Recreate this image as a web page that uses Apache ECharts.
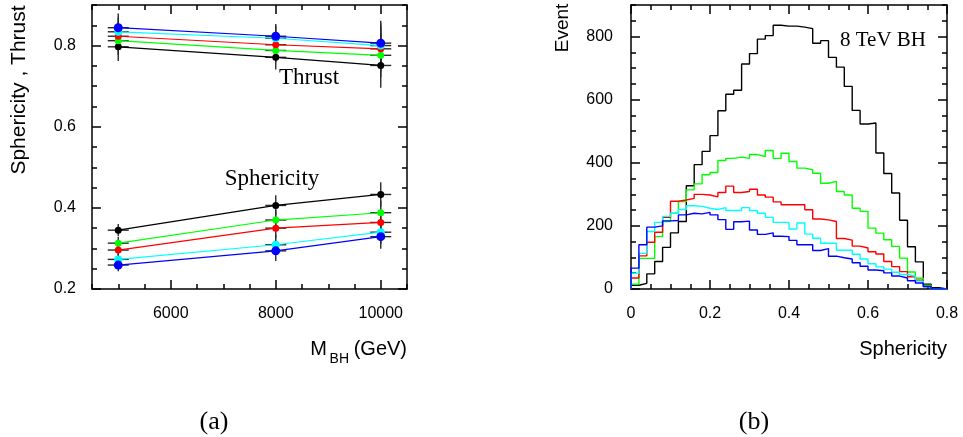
<!DOCTYPE html>
<html><head><meta charset="utf-8">
<script src="https://cdn.jsdelivr.net/npm/echarts@6/dist/echarts.min.js"></script>
<style>html,body{margin:0;padding:0;background:#fff}#c{width:963px;height:437px}</style>
</head><body><div id="c"></div>
<script>
// ---------- Panel (a): mean Sphericity / Thrust vs M_BH ----------
const masses = [5000, 8000, 10000];
const massErr = [200, 200, 200];

const thrustBlack = [0.797, 0.771, 0.751];
const thrustGreen = [0.812, 0.788, 0.776];
const thrustRed   = [0.823, 0.802, 0.792];
const thrustCyan  = [0.834, 0.818, 0.800];
const thrustBlue  = [0.844, 0.823, 0.806];
const thrustErr   = [0.035, 0.030, 0.055];

const spherBlack = [0.345, 0.406, 0.433];
const spherGreen = [0.313, 0.370, 0.388];
const spherRed   = [0.296, 0.350, 0.364];
const spherCyan  = [0.273, 0.309, 0.340];
const spherBlue  = [0.259, 0.294, 0.329];
const spherErr   = [0.015, 0.025, 0.030];

const massTickLabels = [6000, 8000, 10000];
const leftYTickLabels = [0.2, 0.4, 0.6, 0.8];

// ---------- Panel (b): Sphericity histograms, 8 TeV BH (40 bins of 0.02 from 0 to 0.8) ----------
const binLow = 0;
const binWidth = 0.02;
const histBlack = [12, 18, 48, 87, 132, 178, 214, 327, 394, 436, 486, 565, 617, 630, 713, 746, 792, 803, 836, 833,
                   833, 830, 825, 779, 787, 734, 703, 642, 566, 523, 526, 431, 366, 304, 218, 134, 86, 15, 4, 0];
const histGreen = [15, 97, 97, 166, 214, 240, 277, 314, 333, 362, 369, 407, 414, 418, 414, 426, 420, 439, 414, 430,
                   404, 383, 378, 367, 335, 341, 309, 298, 256, 246, 193, 177, 156, 135, 98, 54, 34, 12, 0, 0];
const histRed   = [35, 105, 148, 180, 227, 278, 282, 287, 300, 298, 292, 306, 326, 306, 309, 316, 298, 291, 276, 267,
                   267, 267, 251, 222, 219, 214, 160, 155, 136, 130, 118, 111, 87, 71, 55, 39, 28, 8, 0, 0];
const histCyan  = [50, 113, 182, 211, 230, 240, 252, 264, 262, 256, 252, 258, 249, 249, 258, 249, 240, 227, 211, 211,
                   190, 209, 174, 161, 145, 145, 123, 123, 110, 95, 80, 70, 63, 53, 46, 40, 25, 8, 0, 0];
const histBlue  = [66, 140, 196, 200, 216, 217, 235, 240, 238, 243, 235, 220, 189, 213, 215, 187, 173, 178, 167, 166,
                   154, 140, 140, 122, 128, 104, 99, 95, 83, 72, 60, 58, 51, 41, 35, 26, 19, 8, 0, 0];

const rightXTickLabels = [0, 0.2, 0.4, 0.6, 0.8];
const rightYTickLabels = [0, 200, 400, 600, 800];

// ---------- build ----------
const SANS = "'Liberation Sans', Arial, sans-serif";
const SERIF = "'Liberation Serif', 'DejaVu Serif', serif";
const AX = {color: '#000', width: 1.5};

function axis(grid, pos, min, max, opts) {
  const a = {
    gridIndex: grid, type: 'value', position: pos, min: min, max: max,
    axisLine: {show: !!opts.line, onZero: false, lineStyle: AX},
    axisTick: {show: true, inside: true, length: opts.len, lineStyle: AX},
    axisLabel: {show: false},
    splitLine: {show: false}
  };
  if (opts.interval) a.interval = opts.interval;
  if (opts.ticks) a.axisTick.customValues = opts.ticks;
  if (opts.labels) {
    a.axisLabel = {show: true, customValues: opts.labels, margin: opts.margin,
                   fontFamily: SANS, fontSize: 16, color: '#000',
                   formatter: opts.fmt || (v => String(v))};
  }
  return a;
}

const xAxes = [
  axis(0, 'bottom', 4500, 10500, {line: true, len: 9, ticks: massTickLabels, labels: massTickLabels, margin: 17}),
  axis(0, 'bottom', 4500, 10500, {len: 5, interval: 500}),
  axis(0, 'top', 4500, 10500, {line: true, len: 9, ticks: massTickLabels}),
  axis(0, 'top', 4500, 10500, {len: 5, interval: 500}),
  axis(1, 'bottom', 0, 0.8, {line: true, len: 9, ticks: rightXTickLabels, labels: rightXTickLabels, margin: 17,
        fmt: v => (v === 0 ? '0' : String(+(+v).toFixed(1)))}),
  axis(1, 'bottom', 0, 0.8, {len: 5, interval: 0.05}),
  axis(1, 'top', 0, 0.8, {line: true, len: 9, ticks: rightXTickLabels}),
  axis(1, 'top', 0, 0.8, {len: 5, interval: 0.05})
];
const yAxes = [
  axis(0, 'left', 0.2, 0.9, {line: true, len: 9, ticks: leftYTickLabels, labels: leftYTickLabels, margin: 16,
        fmt: v => (+v).toFixed(1)}),
  axis(0, 'left', 0.2, 0.9, {len: 5, interval: 0.05}),
  axis(0, 'right', 0.2, 0.9, {line: true, len: 9, ticks: leftYTickLabels}),
  axis(0, 'right', 0.2, 0.9, {len: 5, interval: 0.05}),
  axis(1, 'left', 0, 900, {line: true, len: 9, ticks: rightYTickLabels, labels: rightYTickLabels, margin: 18}),
  axis(1, 'left', 0, 900, {len: 5, interval: 50}),
  axis(1, 'right', 0, 900, {line: true, len: 9, ticks: rightYTickLabels}),
  axis(1, 'right', 0, 900, {len: 5, interval: 50})
];

const series = [];
function addPoints(vals, errs, color, size) {
  series.push({
    type: 'custom', xAxisIndex: 0, yAxisIndex: 0, silent: true, z: 1,
    encode: {x: 0, y: 1},
    data: masses.map((m, i) => [m, vals[i], errs[i], massErr[i]]),
    renderItem: function (params, api) {
      const x = api.value(0), y = api.value(1), ey = api.value(2), ex = api.value(3);
      const t = api.coord([x, y + ey]), b = api.coord([x, y - ey]);
      const l = api.coord([x - ex, y]), r = api.coord([x + ex, y]);
      const st = {stroke: '#2a2a2a', lineWidth: 1.4};
      return {type: 'group', children: [
        {type: 'line', shape: {x1: t[0], y1: t[1], x2: b[0], y2: b[1]}, style: st},
        {type: 'line', shape: {x1: l[0], y1: l[1], x2: r[0], y2: r[1]}, style: st}
      ]};
    }
  });
  series.push({
    type: 'line', xAxisIndex: 0, yAxisIndex: 0, z: 3, silent: true, animation: false,
    data: masses.map((m, i) => [m, vals[i]]),
    symbol: 'circle', symbolSize: size, showSymbol: true,
    itemStyle: {color: color}, lineStyle: {color: color, width: 1.2}
  });
}
addPoints(thrustBlack, thrustErr, '#000000', 7);
addPoints(thrustGreen, thrustErr, '#00ff00', 7);
addPoints(thrustRed, thrustErr, '#ff0000', 7);
addPoints(thrustCyan, thrustErr, '#00ffff', 8);
addPoints(thrustBlue, thrustErr, '#0000ff', 9);
addPoints(spherBlack, spherErr, '#000000', 7);
addPoints(spherGreen, spherErr, '#00ff00', 7);
addPoints(spherRed, spherErr, '#ff0000', 7);
addPoints(spherCyan, spherErr, '#00ffff', 8);
addPoints(spherBlue, spherErr, '#0000ff', 9);

function stepData(vals) {
  const d = [[binLow, 0]];
  vals.forEach((v, i) => d.push([binLow + i * binWidth, v]));
  d.push([binLow + vals.length * binWidth, vals[vals.length - 1]]);
  d.push([binLow + vals.length * binWidth, 0]);
  return d;
}
function addHist(vals, color) {
  series.push({
    type: 'line', xAxisIndex: 4, yAxisIndex: 4, step: 'end', symbol: 'none', silent: true,
    animation: false, data: stepData(vals), lineStyle: {color: color, width: 1.4}
  });
}
addHist(histBlack, '#000000');
addHist(histGreen, '#00ff00');
addHist(histRed, '#ff0000');
addHist(histCyan, '#00ffff');
addHist(histBlue, '#0000ff');

function txt(text, x, y, font, align, rot) {
  return {type: 'text', x: x, y: y, rotation: rot || 0, silent: true, z: 10,
          style: {text: text, font: font, fill: '#000', align: align || 'center', verticalAlign: 'middle',
                  textAlign: align || 'center', textVerticalAlign: 'middle'}};
}
const graphics = [
  txt('Sphericity , Thrust', 19, 90, '21px ' + SANS, 'center', Math.PI / 2),
  txt('Thrust', 309, 78, '23px ' + SERIF),
  txt('Sphericity', 272, 179, '23px ' + SERIF),
  txt('(GeV)', 407, 349, '20px ' + SANS, 'right'),
  txt('BH', 349, 359, '14px ' + SANS, 'right'),
  txt('M', 327, 349, '20px ' + SANS, 'right'),
  txt('(a)', 214, 422, '26px ' + SERIF),
  txt('Event', 563, 28, '19px ' + SANS, 'center', Math.PI / 2),
  txt('8 TeV BH', 883, 40, '21px ' + SERIF),
  txt('Sphericity', 947, 349, '20px ' + SANS, 'right'),
  txt('(b)', 754, 422, '26px ' + SERIF)
];

const chart = echarts.init(document.getElementById('c'), null, {renderer: 'canvas'});
chart.setOption({
  animation: false,
  backgroundColor: '#fff',
  grid: [
    {left: 92, top: 5, width: 315, height: 284, show: false},
    {left: 631, top: 5, width: 316, height: 284, show: false}
  ],
  xAxis: xAxes,
  yAxis: yAxes,
  series: series,
  graphic: graphics
});
</script></body></html>
